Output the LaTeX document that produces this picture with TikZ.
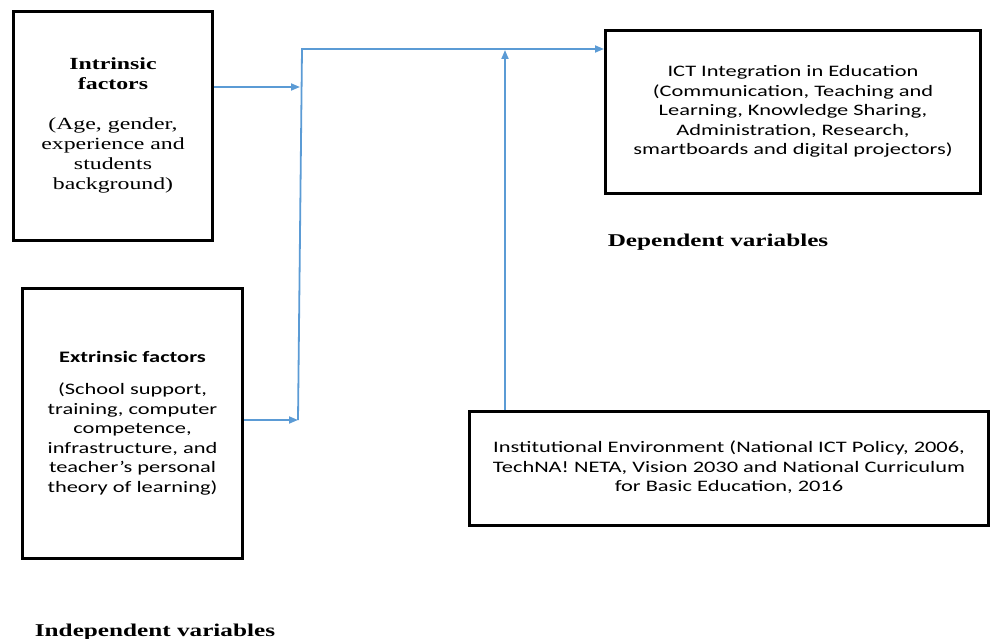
\documentclass[tikz,border=0pt]{standalone}
\usepackage{fontspec}
\usepackage{graphicx}
\setmainfont{Liberation Serif}
\newfontfamily\calib{Carlito}
\usetikzlibrary{arrows.meta,calc}
\definecolor{linkblue}{HTML}{5B9BD5}
\newcommand{\stretchtext}[2][1.4]{\scalebox{#1}[1]{\begin{tabular}{@{}c@{}}#2\end{tabular}}}
\begin{document}
\begin{tikzpicture}[x=1pt,y=-1pt,
  boxstyle/.style={draw=black,line width=3pt,inner sep=0pt,anchor=north west,align=center},
  serifsize/.style={font=\fontsize{17}{20}\selectfont},
  sanssize/.style={font=\calib\fontsize{16}{19.5}\selectfont},
  link/.style={draw=linkblue,line width=1.8pt},
  tip/.style={-{Triangle[length=9pt,width=7pt]}},
  caption/.style={font=\bfseries\fontsize{18}{20}\selectfont}]
\useasboundingbox (0,0) rectangle (990,639);

% boxes
\node[boxstyle,serifsize,minimum width=199pt,minimum height=229pt] (intr) at (12,10)
  {\stretchtext{\textbf{Intrinsic}\\ \textbf{factors}\\ \\ (Age, gender,\\ experience and\\ students\\ background)}};
\node[boxstyle,sanssize,minimum width=220pt,minimum height=270pt] (extr) at (21,287)
  {\stretchtext{\textbf{Extrinsic factors}\\[13pt] (School support,\\ training, computer\\ competence,\\ infrastructure, and\\ teacher’s personal\\ theory of learning)}};
\node[boxstyle,sanssize,minimum width=375pt,minimum height=163pt] (ict) at (604,29)
  {\stretchtext{ICT Integration in Education\\ (Communication, Teaching and\\ Learning, Knowledge Sharing,\\ Administration, Research,\\ smartboards and digital projectors)}};
\node[boxstyle,sanssize,minimum width=519pt,minimum height=114pt] (inst) at (468,410)
  {\stretchtext{Institutional Environment (National ICT Policy, 2006,\\ TechNA! NETA, Vision 2030 and National Curriculum\\ for Basic Education, 2016}};

% captions
\node[caption] (dep) at (718,242) {\stretchtext{Dependent variables}};
\node[caption] (indep) at (155,632) {\stretchtext{Independent variables}};

% junction coordinates
\coordinate (j1) at (300,87);
\coordinate (j2) at (298,420);
\coordinate (top) at (302,49);
\coordinate (mid) at (505,50);

% connectors
\draw[link,tip] (intr.east |- j1) -- (j1);
\draw[link,tip] (extr.east |- j2) -- (j2);
\draw[link,tip] (j2) -- (top) -- (ict.west |- top);
\draw[link,tip] (inst.north -| mid) -- (mid);
\end{tikzpicture}
\end{document}
